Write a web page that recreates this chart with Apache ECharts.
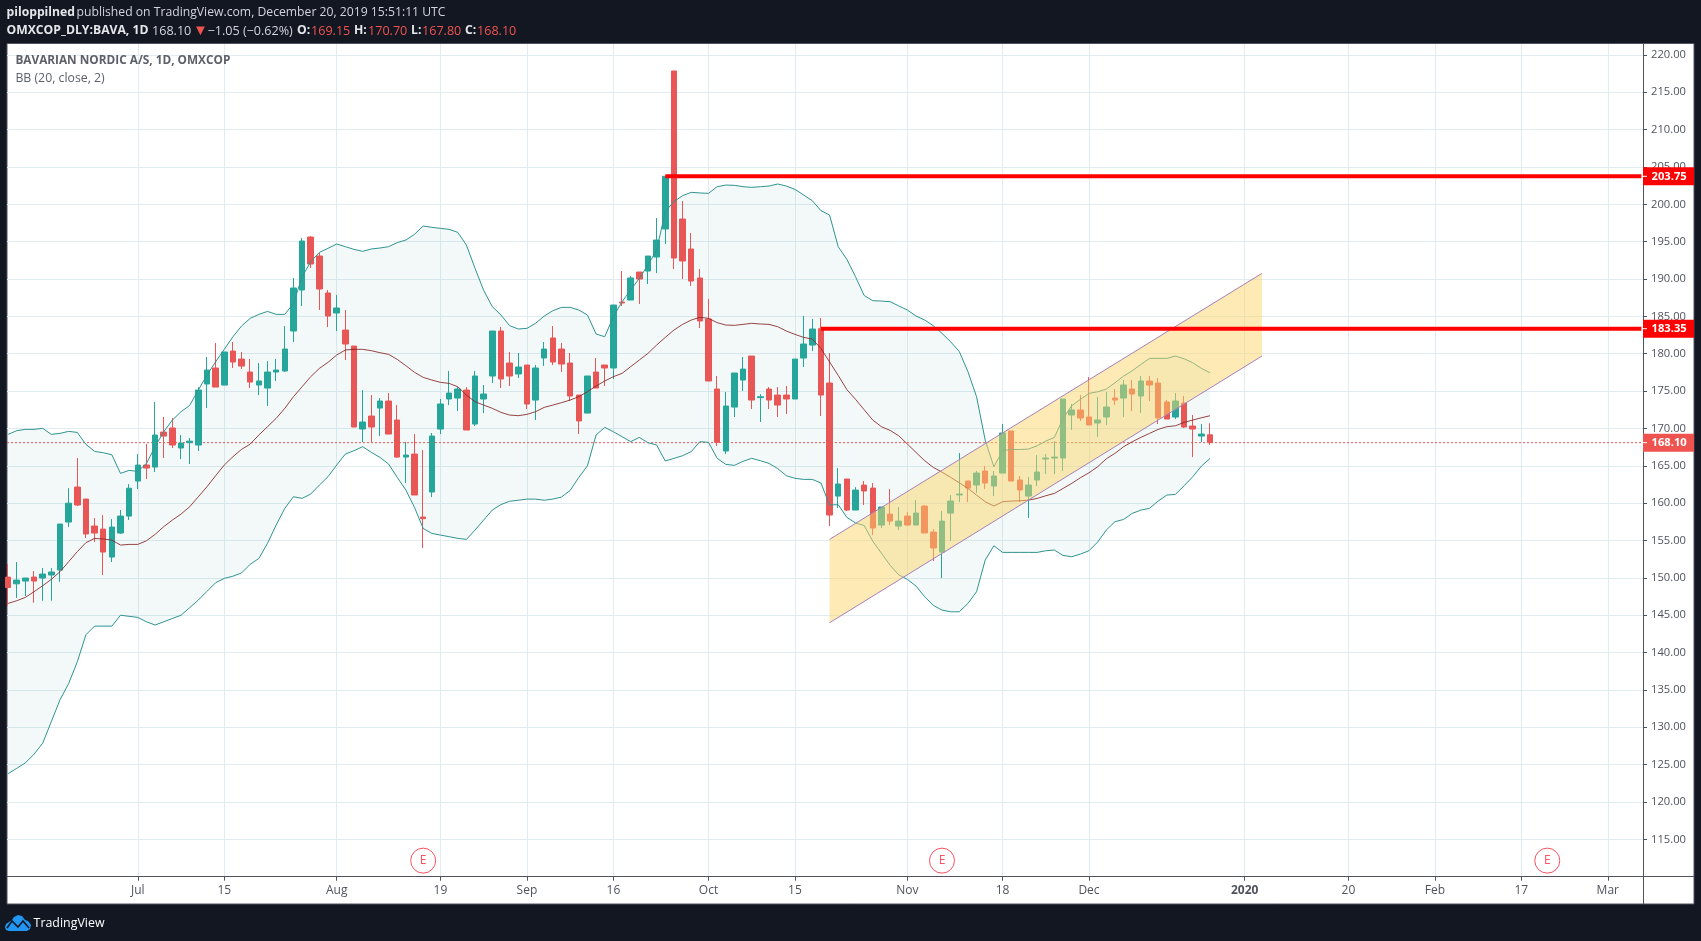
<!DOCTYPE html>
<html>
<head>
<meta charset="utf-8">
<title>BAVARIAN NORDIC A/S, 1D</title>
<script src="https://cdn.jsdelivr.net/npm/echarts@6/dist/echarts.min.js"></script>
<style>
html,body{margin:0;padding:0;background:#131722;}
#chart{width:1701px;height:941px;}
</style>
</head>
<body>
<div id="chart"></div>
<script>
// Daily OHLC, one entry per trading session
const opens = [
150.1,149.2,149.57,150.11,149.98,150.38,151.05,157.47,162.16,160.55,
156.94,156.53,152.79,156,158.27,162.96,165.1,164.83,169.52,170.06,
167.38,168.1,167.78,175.95,178.09,175.81,180.36,179.29,177.55,175.81,
175.41,177.55,177.69,183.04,188.53,195.62,193.08,188.13,185.45,183.17,
181.03,169.92,171.66,172.73,173.67,171.13,166.17,166.57,158.14,161.49,
169.92,173.94,174.07,175.14,170.59,173.94,177.02,183.04,178.76,177.29,
178.49,173.8,179.43,182.11,180.63,178.76,174.47,172.06,177.55,178.49,
178.09,186.92,187.19,190.94,191.07,192.95,196.7,217.85,198.03,194.02,
190.14,184.65,175.28,166.98,172.86,176.48,179.69,174.12,175.27,174.47,
174.47,173.94,179.42,181.16,183.35,176.08,160.95,163.23,159.08,162.42,
162.02,157.07,158.54,156.93,158.27,157.07,159.61,156.13,153.45,158.67,
161.1,162.96,162.43,164.3,162.29,164.03,169.66,163.1,160.95,163.1,
165.91,166.04,166.04,171.8,172.47,171.53,170.73,171.53,174.07,174.07,
175.28,174.34,176.35,176.08,173.54,171.53,173.4,170.32,168.98,169.15];
const closes = [
148.7,149.7,149.98,149.57,150.51,150.78,157.2,160,159.75,155.87,
156,153.46,156.8,158.27,162,165.1,164.7,169.12,168.98,167.78,
168.05,168.3,175.14,177.82,175.54,180.23,178.89,178.35,176.21,176.35,
177.55,177.82,180.63,188.8,195.09,192.01,188.66,185.05,186.12,181.3,
170.19,170.86,170.19,173.67,169.25,166.17,166.44,161.09,157.92,168.98,
173.27,174.74,175.28,169.79,177.02,174.61,183.04,176.62,177.02,178.22,
173.27,178.09,180.63,178.89,178.62,174.34,171,177.02,175.41,178.09,
186.52,186.79,190.14,190,193.08,195.22,203.75,192.81,192.41,189.73,
184.38,176.35,168.14,173,177.42,177.95,173.8,174.25,173.8,173.13,
173.94,179.29,181.3,183.31,174.47,158.41,162.56,159.08,161.75,161.62,
156.67,159.48,157.6,157.6,157.07,158.67,156,154,157.6,160.28,
161.22,162.02,164.03,162.69,163.63,169.39,162.96,161.76,162.43,164.17,
166.04,166.17,173.94,172.47,171.4,170.46,171.13,172.87,173.8,175.81,
174.61,176.35,175.81,171.4,171.26,173.67,170.19,169.92,169.25,168.1];
const highs = [
151.85,152.12,150,150.91,151.31,151.31,157.2,162,166.04,160.55,
158,158.4,157.87,159.08,162.56,166.57,167.9,173.54,171.53,171.39,
169.12,168.72,175.54,179.56,181.43,180.23,181.57,180.23,179.29,178.76,
179.02,179.29,183.7,190.14,195.49,195.76,193.48,188.53,187.86,185.85,
181.03,175.14,174.47,174.07,174.74,173.13,168.18,169.25,167.11,169.39,
173.94,177.69,175.54,175.54,177.69,175.81,183.04,183.58,180.23,180.1,
178.49,178.49,181.57,183.71,181.43,180.1,174.47,177.02,179.43,178.49,
186.52,191.07,190.4,190.94,193.08,198.17,203.75,217.85,200.44,196.16,
191.34,187.33,177.02,174.88,177.42,179.56,179.69,174.6,175.54,175.54,
175.68,179.29,185.05,184.65,184.78,180.09,164.7,163.23,162.15,162.96,
162.69,159.48,161.89,159.48,158.81,160.42,159.75,156.53,158.94,161.08,
166.71,162.96,164.3,164.97,164.3,170.59,169.66,163.63,163.5,166.44,
166.58,168.32,173.94,173.27,174.47,176.88,174.21,174.88,175.28,176.48,
176.48,177.02,177.02,176.75,173.8,174.74,174.34,171.8,170.59,170.7];
const lows = [
146.27,147.3,147.57,146.67,146.94,146.94,149.48,156.8,159.61,155.33,
154.8,150.38,152.12,155.87,157.74,161.89,163.23,164.17,166.04,167.38,
165.9,165.24,166.98,172.73,175.54,175.81,178.09,177.95,175.41,174.47,
173,176.35,177.55,181.57,186.39,191.47,185.85,183.58,183.04,179.16,
170.19,168.18,168.18,168.98,169.25,166.04,162.69,161.09,153.99,160.82,
169.25,173.13,172.33,169.79,170.32,172.06,176.08,175.41,175.68,176.75,
172.6,171.13,178.36,178.49,177.55,173.67,169.25,172.06,175.41,175.68,
176.62,186.39,187.19,186.66,189.33,190.8,194.69,191.34,190,189.07,
183.44,176.35,167.65,166.57,171.53,175.01,172.6,170.86,172.6,171.53,
171.93,173.94,178.22,180.36,171.66,156.93,159.34,158.94,159.08,159.75,
155.73,156.67,157.07,156.4,156.93,157.07,156,152.25,149.97,154.93,
160.15,160.15,161.36,161.89,160.95,164.03,162.96,160.15,158.01,162.29,
163.9,163.9,164.3,169.79,171,170.46,168.85,170.46,173.14,171.53,
172.33,172.07,173.67,170.59,171.26,171.26,170.06,166.17,168.18,167.8];

// Bollinger Bands (20, close, 2)
const bbUpper = [
169.21,169.7,169.88,169.88,170.01,169.21,169.34,169.61,169.47,167.87,
166.93,166.75,166.48,163.99,164.39,164.25,165.32,167.56,169.56,171.13,
172.24,173.09,175.14,177.15,178.93,180.59,182.28,183.71,184.74,185.27,
185.67,185.27,185.27,186.74,190.31,192.32,193.57,194.11,194.69,194.33,
193.97,193.71,194.02,194.15,194.33,194.87,195.22,195.98,197.1,196.92,
196.78,196.65,196.25,194.55,191.43,188.48,186.3,185.18,183.76,183.31,
183.4,184.07,185.05,185.76,186.21,186.21,185.85,185.18,182.64,182.28,
184.96,186.97,188.53,190.09,191.88,193.88,199.02,200.36,201.16,201.6,
201.52,201.47,202.36,202.58,202.54,202.36,202.27,202.36,202.45,202.72,
202.45,202,201.25,200.49,199.15,198.57,194.33,192.63,190.31,187.8,
187.1,187.05,186.97,186.4,185.85,185.05,184.51,183.75,182.73,181.61,
180.3,177.6,174.24,168.44,164.87,167.02,167.19,167.19,167.24,167.68,
168.31,168.8,171.34,173.04,173.89,174.69,174.91,175.27,176.12,177.01,
177.72,178.57,179.38,179.38,179.38,179.69,179.33,178.8,178.04,177.46];
const bbMiddle = [
146.58,146.94,147.39,148.15,148.95,149.8,150.82,152.16,153.5,154.71,
155.28,155.2,155.06,154.39,154.48,154.48,154.97,155.82,156.85,157.74,
158.54,159.52,160.86,162.2,163.67,165.1,166.22,167.2,167.91,169.12,
170.23,171.35,172.69,174.25,175.59,176.93,178.04,178.85,179.83,180.5,
180.59,180.59,180.41,180.14,179.92,179.25,178.4,177.51,176.84,176.48,
176.17,176.03,175.59,174.47,173.58,173.13,172.69,172.15,171.79,171.71,
171.88,172.24,172.82,173.13,173.45,173.8,174.25,174.92,175.68,176.35,
176.93,177.37,178.27,179.16,180.05,181.17,182.19,183.17,183.93,184.51,
184.87,184.74,184.16,183.84,183.8,183.93,184.07,183.98,183.93,183.62,
183.04,182.59,182.19,181.97,180.7,178.9,177.1,175.2,173.9,172.5,
171.12,170.23,169.74,169.02,167.91,166.79,165.68,164.78,164.16,163.45,
162.73,161.97,161.08,160.19,159.61,160.19,160.28,160.32,160.41,160.63,
160.99,161.3,161.97,162.64,163.4,164.07,164.87,165.94,166.66,167.55,
168.22,168.8,169.34,169.87,170.23,170.36,170.81,171.12,171.43,171.7];
const bbLower = [
123.79,124.5,125.24,126.4,127.86,130.76,133.67,135.85,138.75,142.38,
143.54,143.54,143.54,145,144.85,144.71,144.12,143.69,144.12,144.56,
145,146.01,147.03,148.19,149.35,149.93,150.22,150.66,151.82,152.6,
154.62,157.07,159.3,160.86,160.64,161.22,162.42,163.54,165.1,166.57,
167.02,167.56,166.8,166.13,165.24,163.45,161.76,159.43,156.62,155.95,
155.73,155.51,155.29,155.15,156.4,157.74,159.08,159.81,160.25,160.39,
160.54,160.54,160.39,160.54,160.82,161.7,163.44,165,169.12,170.14,
169.56,168.9,168.23,168.8,168.09,167.78,165.64,165.99,166.35,166.89,
168.23,168.14,166,165.19,165.06,165.6,166,165.68,165.32,164.63,
163.67,163.32,163.18,163.18,162.7,159.75,159.8,158.1,157.35,157,
154.9,153.3,151.68,150.4,149.79,148.9,147.47,146.31,145.69,145.46,
145.46,146.58,148.14,152.38,154.3,153.41,153.41,153.41,153.41,153.41,
153.63,153.72,153,152.83,153.18,153.63,154.79,156.4,157.51,157.82,
158.63,159.07,159.3,160.28,161.08,161.17,162.33,163.53,164.96,165.99];

// Rising price channel, endpoints as session index and price
const channelX = [95, 145];
const channelUpper = [155.15, 190.76];
const channelLower = [143.99, 179.69];

// Horizontal levels drawn by hand
const levelPrices = [203.75, 183.35];
const levelStarts = [76, 94];
const lastPrice = 168.10;

// Earnings markers
const earningsX = [48, 108, 178];
const earningsPrice = 112.15;

// Session index of each time-scale tick
const xTickIndex = [15, 25, 38, 50, 60, 70, 81, 91, 104, 115, 125, 143, 155, 165, 175, 185];
const xTickLabels = ['Jul', '15', 'Aug', '19', 'Sep', '16', 'Oct', '15', 'Nov', '18', 'Dec', '2020', '20', 'Feb', '17', 'Mar'];
const yTicks = [115, 120, 125, 130, 135, 140, 145, 150, 155, 160, 165, 170, 175, 180, 185, 190, 195, 200, 205, 210, 215, 220];

const X_MIN = -0.127, X_MAX = 189.07, Y_MIN = 110, Y_MAX = 221.46;
const UP = '#26a69a', DOWN = '#e95656';
const TEXT = '#50535e', GRID = '#e1ecf2', DARK = '#131722';
const AXIS_FONT = 'Open Sans';

// Closed polygon between two price paths
function bandPolygon(xs, top, bottom, fill) {
  return function (params, api) {
    if (params.dataIndex !== 0) return null;
    const pts = [];
    xs.forEach((x, i) => pts.push(api.coord([x, top[i]])));
    for (let i = xs.length - 1; i >= 0; i--) pts.push(api.coord([xs[i], bottom[i]]));
    return { type: 'polygon', silent: true, shape: { points: pts }, style: { fill: fill } };
  };
}

function lineSeries(name, data, color, width, z, extra) {
  return Object.assign({
    name, type: 'line', data, z, silent: true, symbol: 'none', showSymbol: false,
    lineStyle: { color, width }, animation: false
  }, extra || {});
}

const sessions = closes.map((_, i) => i);
const pairs = arr => arr.map((v, i) => [i, v]);

function hText(x, y, text, fill, weight, size) {
  return {
    type: 'text', x, y, z: 50,
    style: { text, fill, font: (weight || 'normal') + ' ' + (size || 12.2) + 'px "Open Sans"', verticalAlign: 'middle' }
  };
}

const tagList = [
  [203.75, '#ff0000'],
  [183.35, '#ff0000'],
  [168.10, '#ef5350']
];

const option = {
  animation: false,
  backgroundColor: DARK,
  grid: { left: 7, top: 44, width: 1636, height: 832.7, containLabel: false },
  xAxis: {
    type: 'value', min: X_MIN, max: X_MAX,
    axisLine: { onZero: false, lineStyle: { color: TEXT, width: 1 } },
    axisTick: { customValues: xTickIndex, length: 4, lineStyle: { color: TEXT } },
    splitLine: { show: true, lineStyle: { color: GRID, width: 1 } },
    axisLabel: {
      customValues: xTickIndex, margin: 8, color: TEXT,
      fontFamily: AXIS_FONT, fontSize: 12,
      formatter: v => {
        const t = xTickLabels[xTickIndex.indexOf(v)];
        return t === '2020' ? '{b|2020}' : t;
      },
      rich: { b: { fontWeight: 'bold', fontFamily: AXIS_FONT, fontSize: 12, color: TEXT } }
    }
  },
  yAxis: {
    type: 'value', position: 'right', min: Y_MIN, max: Y_MAX, scale: true,
    axisLine: { show: true, onZero: false, lineStyle: { color: TEXT, width: 1 } },
    axisTick: { show: true, customValues: yTicks, length: 4, lineStyle: { color: TEXT } },
    splitLine: { show: true, lineStyle: { color: GRID, width: 1 } },
    axisLabel: {
      customValues: yTicks, margin: 8, color: TEXT,
      fontFamily: AXIS_FONT, fontSize: 11.2,
      formatter: v => v.toFixed(2)
    }
  },
  series: [
    {
      name: 'BB fill', type: 'custom', z: 1, silent: true,
      data: sessions.map(i => [i, bbUpper[i], bbLower[i]]),
      encode: { x: 0, y: [1, 2] },
      renderItem: bandPolygon(sessions, bbUpper, bbLower, 'rgba(38,140,140,0.055)')
    },
    lineSeries('Last price', [[X_MIN, lastPrice], [188.9, lastPrice]], '#ef5350', 1, 1.5,
      { lineStyle: { color: '#ef5350', width: 1, type: [2, 2] } }),
    {
      name: 'BAVA', type: 'candlestick', z: 2, silent: true, barWidth: 6,
      data: sessions.map(i => [i, opens[i], closes[i], lows[i], highs[i]]),
      encode: { x: 0, y: [1, 2, 3, 4] },
      itemStyle: { color: UP, color0: DOWN, borderColor: UP, borderColor0: DOWN, borderWidth: 1 }
    },
    lineSeries('BB upper', pairs(bbUpper), '#2f9491', 1, 3),
    lineSeries('BB basis', pairs(bbMiddle), '#872323', 1, 3, { lineStyle: { color: '#872323', width: 1, opacity: 0.85 } }),
    lineSeries('BB lower', pairs(bbLower), '#2f9491', 1, 3),
    {
      name: 'Channel fill', type: 'custom', z: 4, silent: true,
      data: channelX.map((x, i) => [x, channelUpper[i], channelLower[i]]),
      encode: { x: 0, y: [1, 2] },
      renderItem: bandPolygon(channelX, channelUpper, channelLower, 'rgba(252,214,106,0.5)')
    },
    lineSeries('Channel upper', channelX.map((x, i) => [x, channelUpper[i]]), '#a880b8', 1, 4.5),
    lineSeries('Channel lower', channelX.map((x, i) => [x, channelLower[i]]), '#a880b8', 1, 4.5),
    ...levelPrices.map((p, i) => lineSeries('Level ' + p.toFixed(2), [[levelStarts[i], p], [188.88, p]], '#ff0000', 4, 5)),
    {
      name: 'Earnings', type: 'scatter', z: 5, silent: true, symbol: 'circle', symbolSize: 25,
      data: earningsX.map(x => [x, earningsPrice]),
      itemStyle: { color: 'rgba(255,255,255,0)', borderColor: '#f7525f', borderWidth: 1, opacity: 1 },
      label: { show: true, position: 'inside', formatter: 'E', color: '#f7525f', fontFamily: 'Open Sans', fontSize: 12 }
    },
    {
      name: 'Price tags', type: 'custom', z: 8, silent: true, clip: false,
      data: tagList.map(t => [X_MAX, t[0]]),
      encode: { x: 0, y: 1 },
      renderItem: function (params, api) {
        const t = tagList[params.dataIndex];
        const c = api.coord([X_MAX, t[0]]);
        return {
          type: 'group',
          children: [
            { type: 'rect', shape: { x: c[0], y: c[1] - 9, width: 51, height: 18 }, style: { fill: t[1] } },
            { type: 'line', shape: { x1: c[0], y1: c[1], x2: c[0] + 4, y2: c[1] }, style: { stroke: '#ffffff', lineWidth: 1 } },
            { type: 'text', x: c[0] + 8.5, y: c[1], style: { text: t[0].toFixed(2), fill: '#ffffff', font: 'bold 11.2px "' + AXIS_FONT + '"', verticalAlign: 'middle' } }
          ]
        };
      }
    }
  ],
  graphic: {
    elements: [
      { type: 'rect', z: -10, shape: { x: 7, y: 43.5, width: 1687, height: 860.5 }, style: { fill: '#ffffff', stroke: '#50535e', lineWidth: 1 } },
      { type: 'line', z: 1, shape: { x1: 1643.5, y1: 876, x2: 1643.5, y2: 904 }, style: { stroke: TEXT, lineWidth: 1 } },
      { type: 'line', z: 1, shape: { x1: 1643, y1: 876.5, x2: 1694, y2: 876.5 }, style: { stroke: TEXT, lineWidth: 1 } },

      hText(6.5, 13, 'piloppilned', '#e4e6ea', 'bold'),
      hText(76.5, 13, 'published on TradingView.com, December 20, 2019 15:51:11 UTC', '#d1d4dc'),
      hText(6.5, 31, 'OMXCOP_DLY:BAVA, 1D', '#e4e6ea', 'bold'),
      hText(152, 31, '168.10', '#d1d4dc', 'normal', 12.6),
      hText(193, 31, '▼', '#ef5350', 'normal', 15),
      hText(207.5, 31, '−1.05 (−0.62%)', '#d1d4dc', 'normal', 12.6),
      hText(297, 31, 'O:', '#e4e6ea', 'bold'),
      hText(311, 31, '169.15', '#ef5350', 'normal', 12.6),
      hText(354, 31, 'H:', '#e4e6ea', 'bold'),
      hText(368, 31, '170.70', '#ef5350', 'normal', 12.6),
      hText(411, 31, 'L:', '#e4e6ea', 'bold'),
      hText(422, 31, '167.80', '#ef5350', 'normal', 12.6),
      hText(465, 31, 'C:', '#e4e6ea', 'bold'),
      hText(477, 31, '168.10', '#ef5350', 'normal', 12.6),

      hText(15.4, 60.5, 'BAVARIAN NORDIC A/S, 1D, OMXCOP', '#5d606b', 'bold', 11.8),
      hText(15.4, 78, 'BB (20, close, 2)', '#5d606b', 'normal', 12.3),

      // TradingView mark and name in the footer
      {
        type: 'polygon', z: 50, x: 5, y: 915,
        shape: { points: [[0, 12], [1, 9], [4, 7], [7, 5], [9, 2], [13, 0], [17, 1], [20, 5], [23, 6], [26, 10], [25, 14], [22, 16], [4, 16], [1, 15]] },
        style: { fill: '#2196f3' }
      },
      {
        type: 'polyline', z: 51, x: 5, y: 915,
        shape: { points: [[2, 13], [7, 6], [13, 12], [18, 6], [24, 13]] },
        style: { stroke: DARK, lineWidth: 1.6, fill: 'none' }
      },
      {
        type: 'text', z: 50, x: 33.6, y: 923,
        style: { text: 'TradingView', fill: '#ffffff', font: '12.4px "' + AXIS_FONT + '"', verticalAlign: 'middle' }
      }
    ]
  }
};

const chart = echarts.init(document.getElementById('chart'), null, { renderer: 'canvas' });
chart.setOption(option);
</script>
</body>
</html>
